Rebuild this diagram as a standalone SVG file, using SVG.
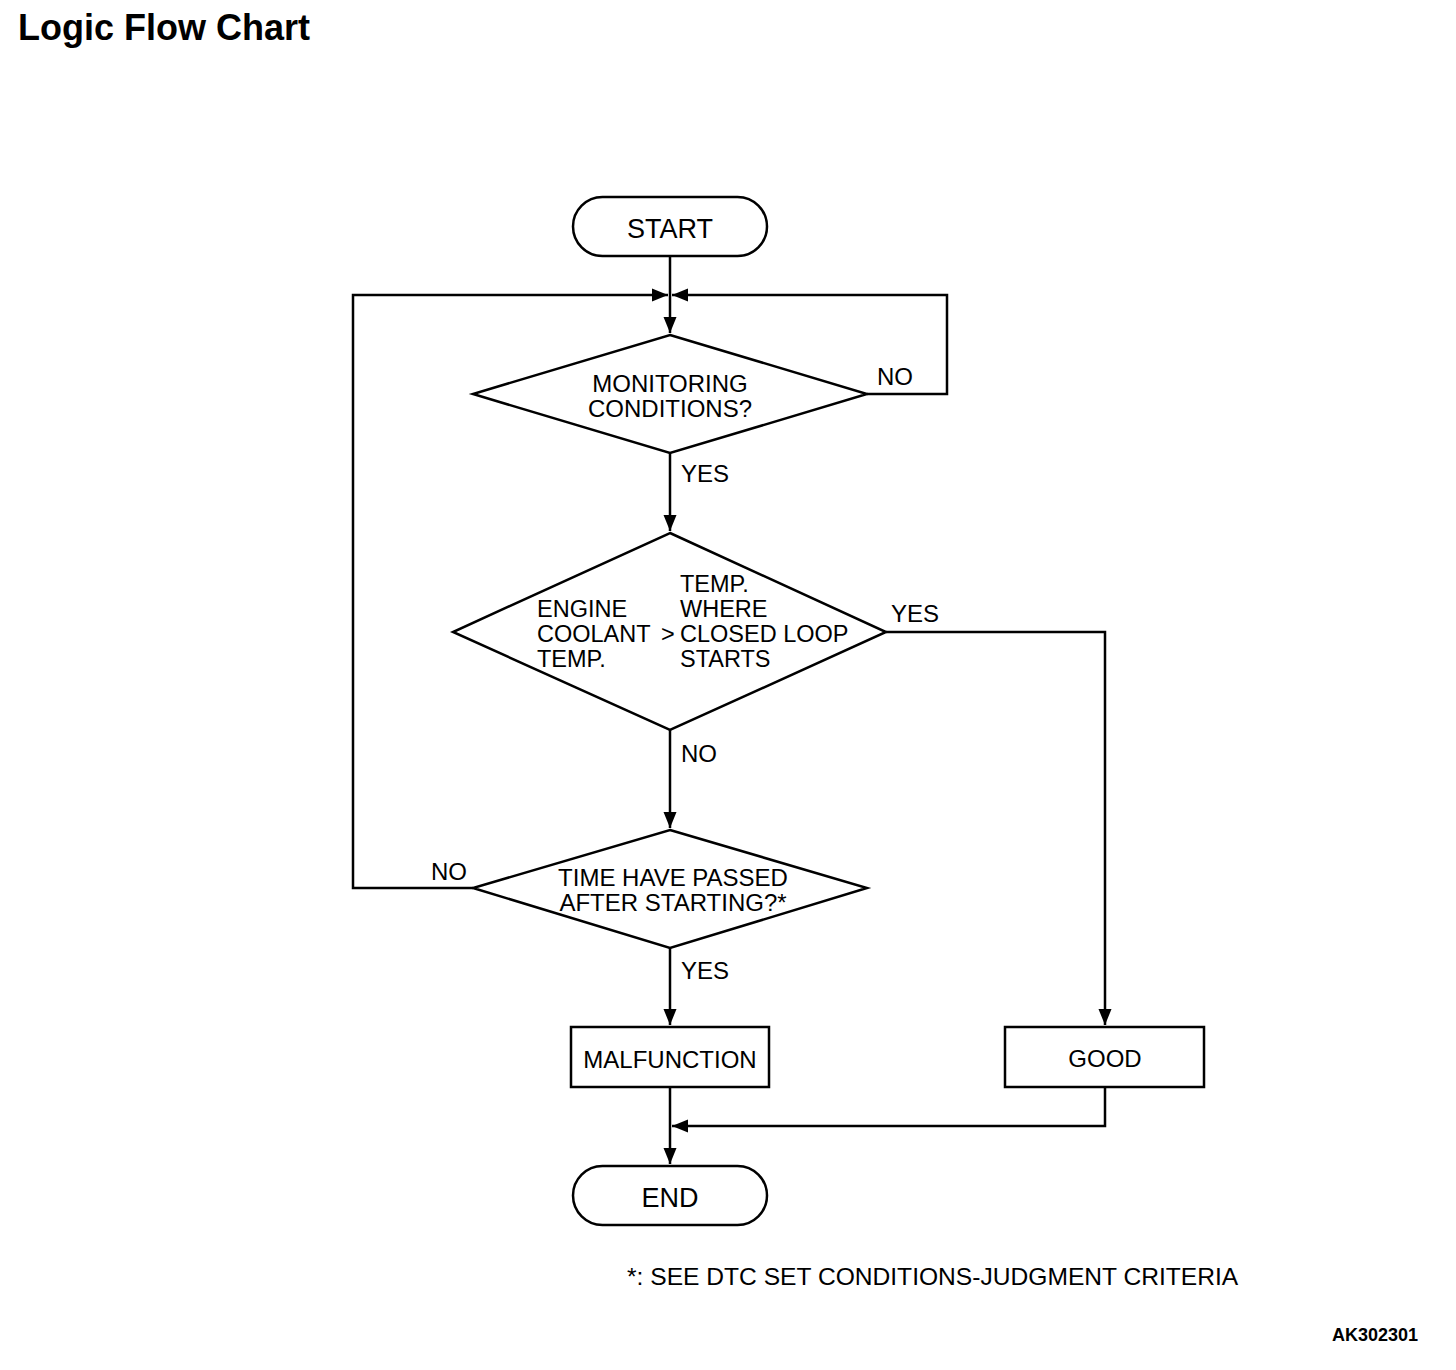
<svg xmlns="http://www.w3.org/2000/svg" width="1456" height="1370" viewBox="0 0 1456 1370">
<defs>
<marker id="arr" markerUnits="userSpaceOnUse" markerWidth="18" markerHeight="14" refX="16" refY="7" orient="auto" viewBox="0 0 18 14">
<path d="M0,0.5 L16,7 L0,13.5 z" fill="#000"/>
</marker>
</defs>
<style>
.s{fill:#fff;stroke:#000;stroke-width:2.5}
.c{fill:none;stroke:#000;stroke-width:2.5}
text{font-family:"Liberation Sans",Arial,sans-serif;fill:#000;font-size:24px}
.m{text-anchor:middle}
.t{font-size:27px}
.d{font-size:23.5px}
</style>
<rect width="1456" height="1370" fill="#fff"/>
<text x="18" y="40" style="font-weight:bold;font-size:36px">Logic Flow Chart</text>
<g id="connectors">
<path class="c" d="M670,256 V333" marker-end="url(#arr)"/>
<path class="c" d="M867,394 H947 V295 H672" marker-end="url(#arr)"/>
<path class="c" d="M473,888 H353 V295 H668" marker-end="url(#arr)"/>
<path class="c" d="M670,453 V531" marker-end="url(#arr)"/>
<path class="c" d="M886,632 H1105 V1025" marker-end="url(#arr)"/>
<path class="c" d="M670,730 V828" marker-end="url(#arr)"/>
<path class="c" d="M670,948 V1025" marker-end="url(#arr)"/>
<path class="c" d="M670,1087 V1164" marker-end="url(#arr)"/>
<path class="c" d="M1105,1087 V1126 H672" marker-end="url(#arr)"/>
<text x="877" y="385">NO</text>
<text x="681" y="482">YES</text>
<text x="891" y="622">YES</text>
<text x="681" y="762">NO</text>
<text x="431" y="880">NO</text>
<text x="681" y="979">YES</text>
</g>
<g id="start">
<rect class="s" x="573" y="197" width="194" height="59" rx="29.5"/>
<text class="m t" x="670" y="238">START</text>
</g>
<g id="monitoring">
<polygon class="s" points="670,335 867,394 670,453 473,394"/>
<text class="m" x="670" y="392">MONITORING</text>
<text class="m" x="670" y="417">CONDITIONS?</text>
</g>
<g id="coolant">
<polygon class="s" points="670,533 886,632 670,730 453,632"/>
<text class="d" x="537" y="617">ENGINE</text>
<text class="d" x="537" y="642">COOLANT</text>
<text class="d" x="537" y="667">TEMP.</text>
<text class="d" x="661" y="642">&gt;</text>
<text class="d" x="680" y="592">TEMP.</text>
<text class="d" x="680" y="617">WHERE</text>
<text class="d" x="680" y="642">CLOSED LOOP</text>
<text class="d" x="680" y="667">STARTS</text>
</g>
<g id="time">
<polygon class="s" points="670,830 867,888 670,948 473,888"/>
<text class="m" x="673" y="886">TIME HAVE PASSED</text>
<text class="m" x="673" y="911">AFTER STARTING?*</text>
</g>
<g id="malfunction">
<rect class="s" x="571" y="1027" width="198" height="60"/>
<text class="m" x="670" y="1068">MALFUNCTION</text>
</g>
<g id="good">
<rect class="s" x="1005" y="1027" width="199" height="60"/>
<text class="m" x="1105" y="1067">GOOD</text>
</g>
<g id="end">
<rect class="s" x="573" y="1166" width="194" height="59" rx="29.5"/>
<text class="m t" x="670" y="1207">END</text>
</g>
<text x="627" y="1285" style="font-size:24.6px">*: SEE DTC SET CONDITIONS-JUDGMENT CRITERIA</text>
<text x="1418" y="1341" style="font-weight:bold;font-size:18px;text-anchor:end">AK302301</text>
</svg>
